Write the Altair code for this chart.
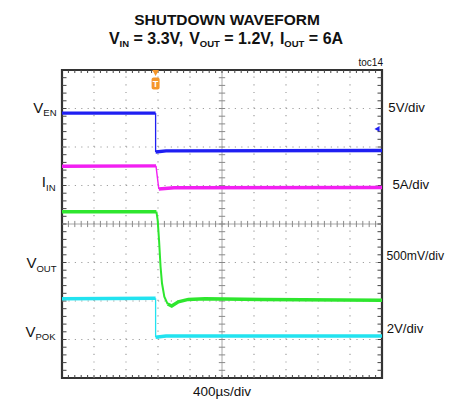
import altair as alt
import pandas as pd

# ---------------- waveform traces: time in µs, level in screen divisions (0 = bottom, 8 = top) -------------
VEN_T = [0, 1170, 1170, 1170, 1170, 1300, 4000]
VEN_V = [6.88, 6.88, 6.88, 5.87, 5.87, 5.90, 5.91]
VEN_S = ["a", "a", "e", "e", "b", "b", "b"]

IIN_T = [0, 1175, 1175, 1190, 1210, 1210, 1400, 4000]
IIN_V = [5.50, 5.51, 5.51, 5.25, 4.91, 4.91, 4.94, 4.95]
IIN_S = ["a", "a", "e", "e", "e", "b", "b", "b"]

VOUT_T = [0, 1180, 1180, 1196, 1213, 1232, 1250, 1279, 1321, 1321, 1371, 1454, 1579, 1787, 2500, 4000]
VOUT_V = [4.32, 4.32, 4.32, 4.10, 3.58, 2.89, 2.46, 2.11, 1.92, 1.92, 1.87, 1.98, 2.04, 2.06, 2.04, 2.02]
VOUT_S = ["a", "a", "e", "e", "e", "e", "e", "e", "e", "b", "b", "b", "b", "b", "b", "b"]

VPOK_T = [0, 1170, 1170, 1170, 1170, 1300, 4000]
VPOK_V = [2.06, 2.07, 2.07, 1.06, 1.06, 1.09, 1.09]
VPOK_S = ["a", "a", "e", "e", "b", "b", "b"]

TRACE_COLORS = {"VEN": "#1f1ff2", "IIN": "#f21ff2", "VOUT": "#2ee62e", "VPOK": "#22e3f0"}
EDGE_W = {"VEN": 1.3, "IIN": 1.4, "VOUT": 2.0, "VPOK": 1.3}
PLATEAU_W = 3.4

# ---------------- screen grid (10 x 8 divisions, 400 µs/div) ----------------
V_GRID = [400, 800, 1200, 1600, 2400, 2800, 3200, 3600]
H_GRID = [1, 2, 3, 5, 6, 7]
CENTER_X = 2000
CENTER_Y = 4
X_MINOR = [k * 80 for k in range(1, 50)]
Y_MINOR = [round(k * 0.2, 2) for k in range(1, 40)]

TRIGGER_T = 1170
VEN_REF = 6.47

# ---------------- geometry helpers (page px -> data units for annotations) ----------------
PX0, PY0, PW, PH = 62, 70, 320, 308
XMAX, YMAX = 4000, 8
SVG_W, SVG_H = 438, 392


def dx(px):
    return (px - PX0) * XMAX / PW


def dy(py):
    return YMAX - (py - PY0) * YMAX / PH


AW_R = {"V": 667, "E": 667, "N": 722, "I": 278, "O": 778, "U": 722, "T": 611, "P": 667, "K": 667}
AW_B = {"V": 667, "I": 278, "N": 722, "O": 778, "U": 722, "T": 611, " ": 278, "=": 584,
        ".": 278, ",": 278, "A": 722}
for d in "0123456789":
    AW_B[d] = 556


def tw(s, size, bold):
    tab = AW_B if bold else AW_R
    return sum(tab[c] for c in s) * size / 1000.0


FONT = "Liberation Sans, Arial, sans-serif"

# ---------------- trace table ----------------
rows = []
i = 0
for name, T, V, S in [("VEN", VEN_T, VEN_V, VEN_S), ("IIN", IIN_T, IIN_V, IIN_S),
                      ("VOUT", VOUT_T, VOUT_V, VOUT_S), ("VPOK", VPOK_T, VPOK_V, VPOK_S)]:
    for t, v, s in zip(T, V, S):
        rows.append({"t": t, "v": v, "seg": name + s, "col": TRACE_COLORS[name],
                     "w": EDGE_W[name] if s == "e" else PLATEAU_W, "i": i})
        i += 1
traces = pd.DataFrame(rows)

XS = alt.Scale(domain=[0, XMAX], nice=False, zero=False)
YS = alt.Scale(domain=[0, YMAX], nice=False, zero=False)


def X(f):
    return alt.X(f, type="quantitative", scale=XS, axis=None)


def Y(f):
    return alt.Y(f, type="quantitative", scale=YS, axis=None)


# ---------------- grid layers ----------------
vgrid = alt.Chart(pd.DataFrame({"x": V_GRID, "y0": 0, "y1": YMAX})).mark_rule(
    color="#a0a0a0", strokeWidth=1.2, strokeDash=[1.2, 6.5]).encode(x=X("x"), y=Y("y0"), y2="y1")
hgrid = alt.Chart(pd.DataFrame({"y": H_GRID, "x0": 0, "x1": XMAX})).mark_rule(
    color="#a0a0a0", strokeWidth=1.2, strokeDash=[1.2, 5.2]).encode(y=Y("y"), x=X("x0"), x2="x1")
cx = alt.Chart(pd.DataFrame({"x": [CENTER_X], "y0": [0], "y1": [YMAX]})).mark_rule(
    color="#a8a8a8", strokeWidth=1).encode(x=X("x"), y=Y("y0"), y2="y1")
cy = alt.Chart(pd.DataFrame({"y": [CENTER_Y], "x0": [0], "x1": [XMAX]})).mark_rule(
    color="#a8a8a8", strokeWidth=1).encode(y=Y("y"), x=X("x0"), x2="x1")

tick_rows_h = []  # horizontal short ticks (at y positions)
for y in Y_MINOR:
    tick_rows_h.append({"y": y, "x0": 0, "x1": dx(PX0 + 4.5), "c": "#444"})
    tick_rows_h.append({"y": y, "x0": dx(PX0 + PW - 4.5), "x1": XMAX, "c": "#444"})
    tick_rows_h.append({"y": y, "x0": CENTER_X - 40, "x1": CENTER_X + 40, "c": "#8a8a8a"})
tick_rows_v = []  # vertical short ticks (at x positions)
for x in X_MINOR:
    tick_rows_v.append({"x": x, "y0": YMAX, "y1": dy(PY0 + 3), "c": "#444"})
    tick_rows_v.append({"x": x, "y0": 0, "y1": dy(PY0 + PH - 3), "c": "#444"})
    tick_rows_v.append({"x": x, "y0": CENTER_Y - 0.08, "y1": CENTER_Y + 0.08, "c": "#8a8a8a"})
ticks_h = alt.Chart(pd.DataFrame(tick_rows_h)).mark_rule(strokeWidth=1).encode(
    y=Y("y"), x=X("x0"), x2="x1", color=alt.Color("c:N", scale=None))
ticks_v = alt.Chart(pd.DataFrame(tick_rows_v)).mark_rule(strokeWidth=1).encode(
    x=X("x"), y=Y("y0"), y2="y1", color=alt.Color("c:N", scale=None))

# ---------------- traces ----------------
lines = alt.Chart(traces).mark_line(strokeCap="butt", strokeJoin="miter").encode(
    x=X("t"), y=Y("v"), detail="seg:N", order="i:Q",
    color=alt.Color("col:N", scale=None), strokeWidth=alt.StrokeWidth("w:Q", scale=None))

# ---------------- trigger marker and reference arrow ----------------
ORANGE = "#f5962a"
trig_rect = alt.Chart(pd.DataFrame({"x0": [TRIGGER_T - 50], "x1": [TRIGGER_T + 50],
                                    "y0": [dy(PY0 + 7.5)], "y1": [dy(PY0 + 19.5)]})).mark_rect(
    color=ORANGE, cornerRadius=2).encode(x=X("x0"), x2="x1", y=Y("y0"), y2="y1")
trig_tri = alt.Chart(pd.DataFrame({"x": [TRIGGER_T], "y": [dy(PY0 + 3)]})).mark_point(
    shape="triangle-down", filled=True, size=45, color=ORANGE, opacity=1).encode(x=X("x"), y=Y("y"))
trig_txt = alt.Chart(pd.DataFrame({"x": [TRIGGER_T], "y": [dy(PY0 + 14)], "s": ["T"]})).mark_text(
    color="white", fontSize=9, fontWeight="bold", font=FONT, baseline="middle").encode(
    x=X("x"), y=Y("y"), text="s:N")
ref_arrow = alt.Chart(pd.DataFrame({"x": [dx(377)], "y": [VEN_REF]})).mark_point(
    shape="triangle-left", filled=True, size=35, color=TRACE_COLORS["VEN"], opacity=1).encode(
    x=X("x"), y=Y("y"))

# ---------------- annotations ----------------
LEFT_LABELS = [("V", "EN", 112.7, 56.5), ("I", "IN", 187.3, 55.5),
               ("V", "OUT", 268.3, 56.5), ("V", "POK", 336.7, 55.5)]
RIGHT_LABELS = ["5V/div", "5A/div", "500mV/div", "2V/div"]
RIGHT_X = [388.3, 392.5, 386.5, 386.7]
RIGHT_Y = [111.7, 189.3, 260.0, 332.7]
RIGHT_SIZE = [13.2, 13.2, 12.2, 13.2]
TITLE = "SHUTDOWN WAVEFORM"
SUBTITLE = [("V", False), ("IN", True), (" = 3.3V, ", False), ("V", False), ("OUT", True),
            (" = 1.2V, ", False), ("I", False), ("OUT", True), (" = 6A", False)]
TOC = "toc14"
XLABEL = "400µs/div"


def text_layer(rows, size, bold, align="left", font=FONT):
    df = pd.DataFrame(rows, columns=["x", "y", "s"])
    return alt.Chart(df).mark_text(align=align, baseline="alphabetic", fontSize=size,
                                   fontWeight="bold" if bold else "normal", font=font,
                                   color="#111").encode(x=X("x"), y=Y("y"), text="s:N")


MAIN_L, SUB_L = 15, 9.5
lmain, lsub = [], []
for m, s, base, xe in LEFT_LABELS:
    ws = tw(s, SUB_L, False)
    wm = tw(m, MAIN_L, False)
    lsub.append((dx(xe - ws), dy(base + 3.3), s))
    lmain.append((dx(xe - ws - wm), dy(base), m))

MAIN_S, SUB_S = 16, 9.5
total = sum(tw(s, SUB_S if sub else MAIN_S, True) for s, sub in SUBTITLE)
xcur = 226 - total / 2
smain, ssub = [], []
SUB_BASE = 44.3
for s, sub in SUBTITLE:
    size = SUB_S if sub else MAIN_S
    lead = len(s) - len(s.lstrip(" "))
    xs = xcur + tw(" " * lead, size, True)
    if sub:
        ssub.append((dx(xs), dy(SUB_BASE + 2.4), s.strip()))
    else:
        smain.append((dx(xs), dy(SUB_BASE), s.strip()))
    xcur += tw(s, size, True)

right_layers = [text_layer([(dx(x), dy(y), s)], sz, False)
                for x, y, s, sz in zip(RIGHT_X, RIGHT_Y, RIGHT_LABELS, RIGHT_SIZE)]

layers = [
    vgrid, hgrid, cx, cy, ticks_h, ticks_v, lines, trig_rect, trig_tri, trig_txt, ref_arrow,
    text_layer(lmain, MAIN_L, False), text_layer(lsub, SUB_L, False),
    *right_layers,
    text_layer([(dx(227), dy(24.5), TITLE)], 15.5, True, "center"),
    text_layer(smain, MAIN_S, True), text_layer(ssub, SUB_S, True),
    text_layer([(dx(383), dy(65.5), TOC)], 10, False, "right"),
    text_layer([(dx(222), dy(396), XLABEL)], 13.5, False, "center"),
]

chart = alt.layer(*layers).properties(
    width=PW, height=PH, autosize="none",
    padding={"left": PX0 - 8, "top": PY0 - 8, "right": SVG_W - (PX0 - 8) - PW,
             "bottom": SVG_H - (PY0 - 8) - PH},
    background="white",
).configure_view(stroke="#333333", strokeWidth=2.2)

chart.save("out.html", embed_options={"renderer": "svg", "actions": False})
